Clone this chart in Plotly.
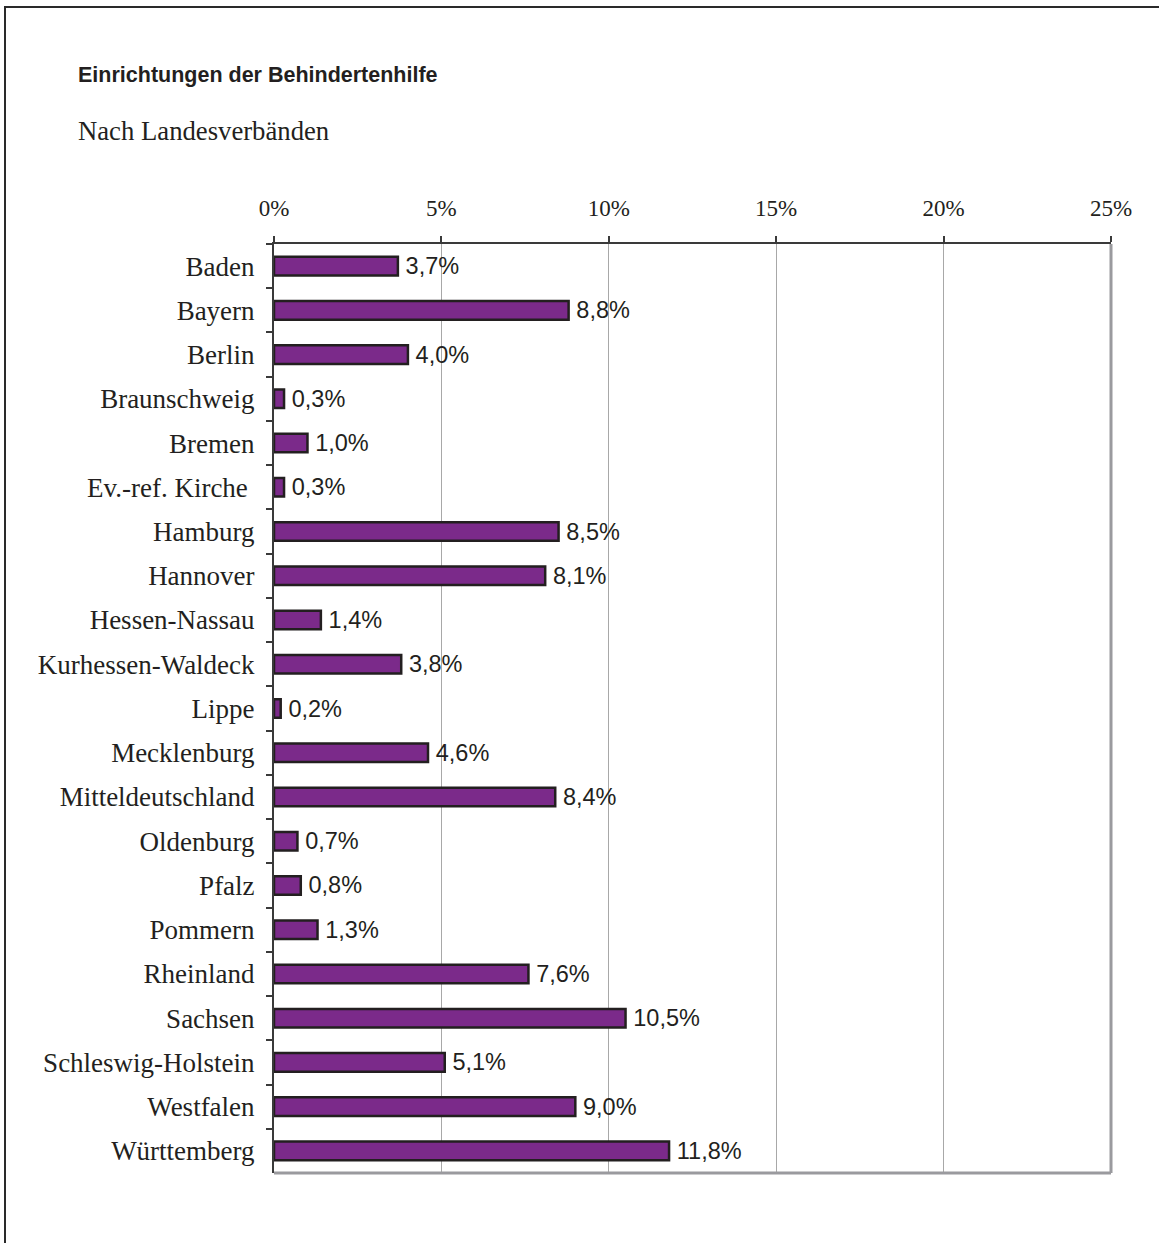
import plotly.graph_objects as go

categories = ["Baden", "Bayern", "Berlin", "Braunschweig", "Bremen", "Ev.-ref. Kirche ",
              "Hamburg", "Hannover", "Hessen-Nassau", "Kurhessen-Waldeck", "Lippe",
              "Mecklenburg", "Mitteldeutschland", "Oldenburg", "Pfalz", "Pommern",
              "Rheinland", "Sachsen", "Schleswig-Holstein", "Westfalen", "Württemberg"]
values = [3.7, 8.8, 4.0, 0.3, 1.0, 0.3, 8.5, 8.1, 1.4, 3.8, 0.2, 4.6, 8.4, 0.7, 0.8,
          1.3, 7.6, 10.5, 5.1, 9.0, 11.8]
x_ticks = [0, 5, 10, 15, 20, 25]

W, H = 1159, 1243
L, R, T, B = 274, 48, 244, 70
pw, ph = W - L - R, H - T - B

def px_x(p):
    return (p - L) / pw

def px_y(p):
    return (H - B - p) / ph

fig = go.Figure(go.Bar(
    x=values, y=categories, orientation="h",
    marker=dict(color="#7B2A8A", line=dict(color="#231F20", width=2.5)),
    width=0.42,
    texttemplate="\u2009%{x:.1f}%", textposition="outside", constraintext="none",
    textfont=dict(family="Liberation Sans", size=23.5, color="#231F20"),
    cliponaxis=False,
))

fig.update_layout(
    width=W, height=H, separators=",.",
    margin=dict(l=L, r=R, t=T, b=B, autoexpand=False),
    paper_bgcolor="white", plot_bgcolor="white",
    showlegend=False,
    xaxis=dict(side="top", range=[0, 25], tickvals=x_ticks,
               ticktext=[f"{v}%" for v in x_ticks],
               showgrid=True, gridcolor="#A8A8A8", gridwidth=1,
               showline=True, linecolor="#3A3A3A", linewidth=2,
               ticks="outside", ticklen=6, tickcolor="#3A3A3A", tickwidth=2,
               ticklabelstandoff=11,
               tickfont=dict(family="Liberation Serif", size=23, color="#231F20"),
               zeroline=False, fixedrange=True),
    yaxis=dict(autorange="reversed", showline=True, linecolor="#3A3A3A", linewidth=2,
               ticks="outside", tickson="boundaries", ticklen=6, tickcolor="#3A3A3A",
               tickwidth=2, ticklabelstandoff=12,
               tickfont=dict(family="Liberation Serif", size=27, color="#231F20"),
               showgrid=False, fixedrange=True),
    bargap=0.58,
)

shapes = [
    dict(type="line", xref="paper", yref="paper", x0=1, x1=1, y0=0, y1=1,
         line=dict(color="#9A9A9E", width=3)),
    dict(type="line", xref="paper", yref="paper", x0=0, x1=1, y0=0, y1=0,
         line=dict(color="#9A9A9E", width=3)),
    dict(type="line", xref="paper", yref="paper", x0=px_x(5), x1=px_x(5), y0=px_y(6), y1=px_y(H + 5),
         line=dict(color="#2A2A2A", width=2)),
    dict(type="line", xref="paper", yref="paper", x0=px_x(4), x1=px_x(W + 5), y0=px_y(7), y1=px_y(7),
         line=dict(color="#2A2A2A", width=2)),
]
fig.update_layout(shapes=shapes)

fig.add_annotation(text="<b>Einrichtungen der Behindertenhilfe</b>", xref="paper", yref="paper",
                   x=px_x(76), y=px_y(75), xanchor="left", yanchor="middle", showarrow=False,
                   font=dict(family="Liberation Sans", size=21.5, color="#231F20"))
fig.add_annotation(text="Nach Landesverbänden", xref="paper", yref="paper",
                   x=px_x(76), y=px_y(131), xanchor="left", yanchor="middle", showarrow=False,
                   font=dict(family="Liberation Serif", size=26.7, color="#231F20"))

fig.write_html("out.html", config={"displayModeBar": False},
               post_script="document.body.style.margin='0';")
